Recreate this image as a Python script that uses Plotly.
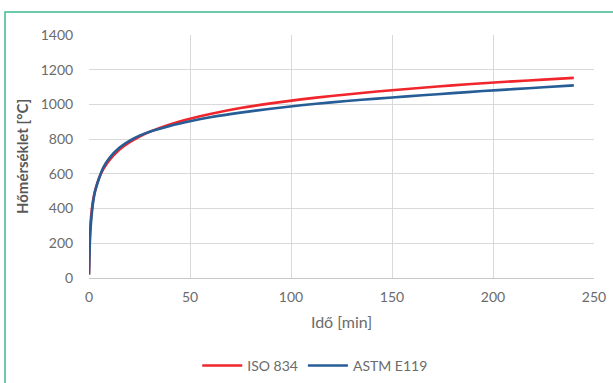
import plotly.graph_objects as go

time_min = [0, 0.5, 1, 2, 3, 5, 7, 10, 15, 20, 25, 30, 40, 50, 60, 75, 90, 105, 120,
            135, 150, 165, 180, 195, 210, 225, 240]
iso_834 = [20, 261, 349, 445, 502, 576, 626, 678, 739, 781, 815, 842, 885, 918, 945,
           979, 1006, 1029, 1049, 1066, 1082, 1096, 1110, 1122, 1133, 1143, 1153]
astm_e119 = [20, 230, 320, 435, 500, 575, 635, 690, 750, 790, 820, 843, 876, 903, 926,
             953, 975, 995, 1012, 1027, 1040, 1053, 1065, 1077, 1088, 1099, 1110]

x_ticks = [0, 50, 100, 150, 200, 250]
y_ticks = [0, 200, 400, 600, 800, 1000, 1200, 1400]

font_family = "Lato, Open Sans, sans-serif"
grey = "#6b6b6b"

fig = go.Figure()
fig.add_trace(go.Scatter(x=time_min, y=iso_834, mode="lines", name="ISO 834",
                         line=dict(color="#f0262c", width=2.6, shape="spline", smoothing=0.6)))
fig.add_trace(go.Scatter(x=time_min, y=astm_e119, mode="lines", name="ASTM E119",
                         line=dict(color="#265d97", width=2.6, shape="spline", smoothing=0.6)))

fig.update_layout(
    width=613, height=383,
    margin=dict(l=89, r=19, t=35, b=105, autoexpand=False),
    paper_bgcolor="white", plot_bgcolor="white",
    font=dict(family=font_family, size=14, color=grey),
    showlegend=True,
    legend=dict(orientation="h", x=0.448, xanchor="center", y=-0.362, yanchor="middle",
                font=dict(size=14, color=grey), itemwidth=40, tracegroupgap=0),
    shapes=[dict(type="rect", xref="paper", yref="paper",
                 x0=-0.1663, x1=1.2, y0=-0.6, y1=1.0947,
                 line=dict(color="#3dbb8c", width=1.5), fillcolor="rgba(0,0,0,0)",
                 layer="below")],
)
fig.update_xaxes(range=[0, 250], tickvals=x_ticks, showgrid=True, gridcolor="#d9d9d9",
                 gridwidth=1, zeroline=False, showline=True, linecolor="#c8c8c8",
                 ticks="outside", ticklen=6, tickcolor="rgba(0,0,0,0)",
                 tickfont=dict(size=14, color=grey),
                 title=dict(text="Idő [min]", font=dict(size=16, color=grey), standoff=13))
fig.update_yaxes(range=[0, 1400], tickvals=y_ticks, showgrid=True, gridcolor="#d9d9d9",
                 gridwidth=1, zeroline=False, showline=False,
                 ticks="outside", ticklen=12, tickcolor="rgba(0,0,0,0)",
                 tickfont=dict(size=14, color=grey),
                 title=dict(text="<b>Hőmérséklet [°C]</b>", font=dict(size=15, color="#595959"),
                            standoff=8))

fig.write_html("out.html")
